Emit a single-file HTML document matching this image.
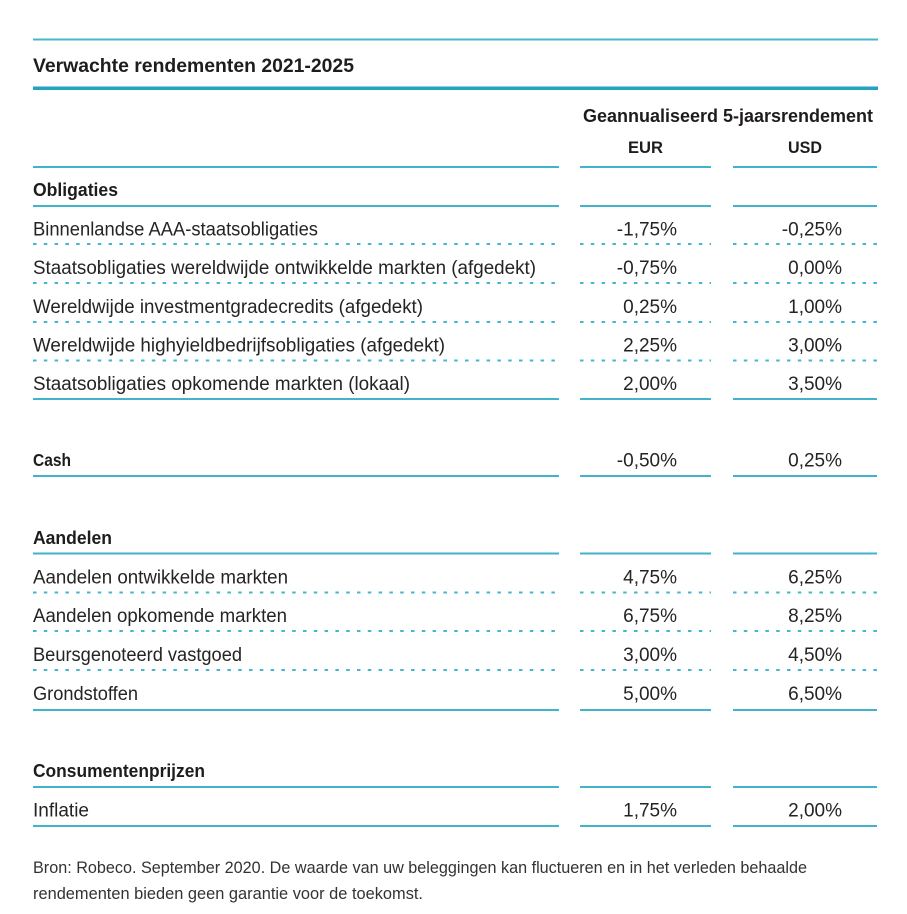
<!DOCTYPE html>
<html>
<head>
<meta charset="utf-8">
<style>
  html, body { margin: 0; padding: 0; background: #ffffff; }
  svg { display: block; }
  .t { font-family: "Liberation Sans", Arial, sans-serif; fill: #262324; }
  .b { font-weight: bold; fill: #1f1c1d; }
</style>
</head>
<body>
<svg width="907" height="914" viewBox="0 0 907 914" xmlns="http://www.w3.org/2000/svg">
  <rect width="907" height="914" fill="#ffffff"/>

  <!-- top lines -->
  <rect x="33" y="38.5" width="845" height="2" fill="#4ab6cd"/>
  <rect x="33" y="86.5" width="845" height="3.5" fill="#23a3bf"/>

  <!-- title -->
  <text class="t b" x="33" y="72" font-size="19.5" textLength="321" lengthAdjust="spacingAndGlyphs">Verwachte rendementen 2021-2025</text>

  <!-- column headers -->
  <text class="t b" x="583" y="122" font-size="18" textLength="290" lengthAdjust="spacingAndGlyphs">Geannualiseerd 5-jaarsrendement</text>
  <text class="t b" x="628" y="153" font-size="17" textLength="35" lengthAdjust="spacingAndGlyphs">EUR</text>
  <text class="t b" x="788" y="153" font-size="17" textLength="34" lengthAdjust="spacingAndGlyphs">USD</text>

  <!-- solid segmented lines -->
  <g fill="#41b3cb">
    <rect x="33" y="166" width="526" height="2"/><rect x="580" y="166" width="131" height="2"/><rect x="733" y="166" width="144" height="2"/>
    <rect x="33" y="205" width="526" height="2"/><rect x="580" y="205" width="131" height="2"/><rect x="733" y="205" width="144" height="2"/>
    <rect x="33" y="398" width="526" height="2"/><rect x="580" y="398" width="131" height="2"/><rect x="733" y="398" width="144" height="2"/>
    <rect x="33" y="475" width="526" height="2"/><rect x="580" y="475" width="131" height="2"/><rect x="733" y="475" width="144" height="2"/>
    <rect x="33" y="552.5" width="526" height="2"/><rect x="580" y="552.5" width="131" height="2"/><rect x="733" y="552.5" width="144" height="2"/>
    <rect x="33" y="709" width="526" height="2"/><rect x="580" y="709" width="131" height="2"/><rect x="733" y="709" width="144" height="2"/>
    <rect x="33" y="786" width="526" height="2"/><rect x="580" y="786" width="131" height="2"/><rect x="733" y="786" width="144" height="2"/>
    <rect x="33" y="825" width="526" height="2"/><rect x="580" y="825" width="131" height="2"/><rect x="733" y="825" width="144" height="2"/>
  </g>

  <!-- dotted segmented lines -->
  <g stroke="#45b6ce" stroke-width="2" stroke-dasharray="3.5 7.3" fill="none">
    <line x1="33" y1="244" x2="559" y2="244"/><line x1="580" y1="244" x2="711" y2="244"/><line x1="733" y1="244" x2="877" y2="244"/>
    <line x1="33" y1="283" x2="559" y2="283"/><line x1="580" y1="283" x2="711" y2="283"/><line x1="733" y1="283" x2="877" y2="283"/>
    <line x1="33" y1="322" x2="559" y2="322"/><line x1="580" y1="322" x2="711" y2="322"/><line x1="733" y1="322" x2="877" y2="322"/>
    <line x1="33" y1="360.5" x2="559" y2="360.5"/><line x1="580" y1="360.5" x2="711" y2="360.5"/><line x1="733" y1="360.5" x2="877" y2="360.5"/>
    <line x1="33" y1="592.5" x2="559" y2="592.5"/><line x1="580" y1="592.5" x2="711" y2="592.5"/><line x1="733" y1="592.5" x2="877" y2="592.5"/>
    <line x1="33" y1="631" x2="559" y2="631"/><line x1="580" y1="631" x2="711" y2="631"/><line x1="733" y1="631" x2="877" y2="631"/>
    <line x1="33" y1="670" x2="559" y2="670"/><line x1="580" y1="670" x2="711" y2="670"/><line x1="733" y1="670" x2="877" y2="670"/>
  </g>

  <!-- section headers -->
  <text class="t b" x="33" y="196" font-size="18.5" textLength="85" lengthAdjust="spacingAndGlyphs">Obligaties</text>
  <text class="t b" x="33" y="466" font-size="17.5" textLength="38" lengthAdjust="spacingAndGlyphs">Cash</text>
  <text class="t b" x="33" y="544" font-size="18.5" textLength="79" lengthAdjust="spacingAndGlyphs">Aandelen</text>
  <text class="t b" x="33" y="777" font-size="18.5" textLength="172" lengthAdjust="spacingAndGlyphs">Consumentenprijzen</text>

  <!-- row labels -->
  <g class="t" font-size="19">
    <text class="t" x="33" y="235.5" textLength="285" lengthAdjust="spacingAndGlyphs">Binnenlandse AAA-staatsobligaties</text>
    <text class="t" x="33" y="274" textLength="503" lengthAdjust="spacingAndGlyphs">Staatsobligaties wereldwijde ontwikkelde markten (afgedekt)</text>
    <text class="t" x="33" y="313" textLength="390" lengthAdjust="spacingAndGlyphs">Wereldwijde investmentgradecredits (afgedekt)</text>
    <text class="t" x="33" y="351.5" textLength="412" lengthAdjust="spacingAndGlyphs">Wereldwijde highyieldbedrijfsobligaties (afgedekt)</text>
    <text class="t" x="33" y="390" textLength="377" lengthAdjust="spacingAndGlyphs">Staatsobligaties opkomende markten (lokaal)</text>
    <text class="t" x="33" y="583.5" textLength="255" lengthAdjust="spacingAndGlyphs">Aandelen ontwikkelde markten</text>
    <text class="t" x="33" y="622" textLength="254" lengthAdjust="spacingAndGlyphs">Aandelen opkomende markten</text>
    <text class="t" x="33" y="661" textLength="209" lengthAdjust="spacingAndGlyphs">Beursgenoteerd vastgoed</text>
    <text class="t" x="33" y="700" textLength="105" lengthAdjust="spacingAndGlyphs">Grondstoffen</text>
    <text class="t" x="33" y="816.5" textLength="56" lengthAdjust="spacingAndGlyphs">Inflatie</text>
  </g>

  <!-- EUR values -->
  <g class="t" font-size="19" text-anchor="end">
    <text class="t" x="677" y="235.5">-1,75%</text>
    <text class="t" x="677" y="274">-0,75%</text>
    <text class="t" x="677" y="313">0,25%</text>
    <text class="t" x="677" y="351.5">2,25%</text>
    <text class="t" x="677" y="390">2,00%</text>
    <text class="t" x="677" y="466.5">-0,50%</text>
    <text class="t" x="677" y="583.5">4,75%</text>
    <text class="t" x="677" y="622">6,75%</text>
    <text class="t" x="677" y="661">3,00%</text>
    <text class="t" x="677" y="700">5,00%</text>
    <text class="t" x="677" y="816.5">1,75%</text>
  </g>

  <!-- USD values -->
  <g class="t" font-size="19" text-anchor="end">
    <text class="t" x="842" y="235.5">-0,25%</text>
    <text class="t" x="842" y="274">0,00%</text>
    <text class="t" x="842" y="313">1,00%</text>
    <text class="t" x="842" y="351.5">3,00%</text>
    <text class="t" x="842" y="390">3,50%</text>
    <text class="t" x="842" y="466.5">0,25%</text>
    <text class="t" x="842" y="583.5">6,25%</text>
    <text class="t" x="842" y="622">8,25%</text>
    <text class="t" x="842" y="661">4,50%</text>
    <text class="t" x="842" y="700">6,50%</text>
    <text class="t" x="842" y="816.5">2,00%</text>
  </g>

  <!-- footer -->
  <text x="33" y="873" font-size="16.5" fill="#333333" font-family="Liberation Sans, Arial, sans-serif" textLength="774" lengthAdjust="spacingAndGlyphs">Bron: Robeco. September 2020. De waarde van uw beleggingen kan fluctueren en in het verleden behaalde</text>
  <text x="33" y="899" font-size="16.5" fill="#333333" font-family="Liberation Sans, Arial, sans-serif" textLength="390" lengthAdjust="spacingAndGlyphs">rendementen bieden geen garantie voor de toekomst.</text>
</svg>
</body>
</html>
